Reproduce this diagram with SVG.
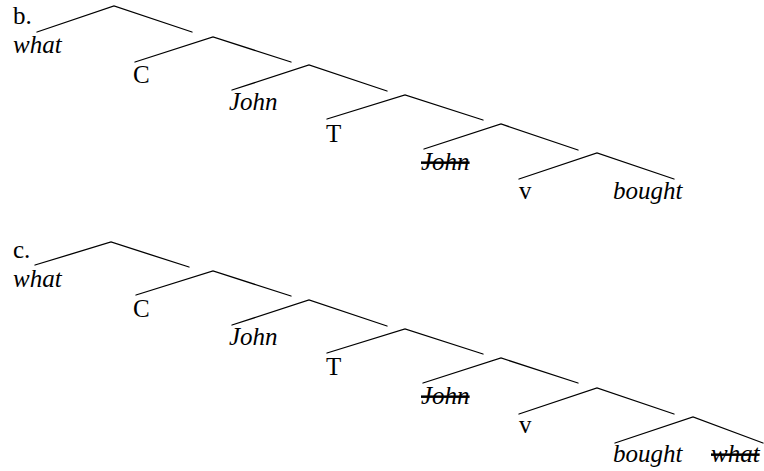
<svg xmlns="http://www.w3.org/2000/svg" width="764" height="471" viewBox="0 0 764 471">
<style>
.e{stroke:#000;stroke-width:1.3;fill:none;stroke-linecap:round}
text{font-family:"Liberation Serif","Times New Roman",serif;font-size:25px;fill:#000}
.i{font-style:italic}
.s{text-decoration:line-through}
</style>
<rect width="764" height="471" fill="#fff"/>
<g id="labels-b">
<text x="13" y="24">b.</text>
</g>
<g id="connectors-b">
<path class="e" d="M37 32L114 6L192 32M135 62L213 37L291 62M232 90L309 65L387 91M327 119L405 95L483 120M424 149L501 124L578 150M519 179L597 153L674 179"/>
</g>
<g id="b-what"><text class="i" x="13" y="53">what</text></g>
<g id="b-C"><text x="133" y="83">C</text></g>
<g id="b-John"><text class="i" x="229" y="110">John</text></g>
<g id="b-T"><text x="326" y="142">T</text></g>
<g id="b-John2"><text class="i s" x="421" y="170">John</text></g>
<g id="b-v"><text x="519" y="199">v</text></g>
<g id="b-bought"><text class="i" x="613" y="199">bought</text></g>

<g id="labels-c">
<text x="13" y="258">c.</text>
</g>
<g id="connectors-c">
<path class="e" d="M35 265L111 242L189 267M136 295L213 271L291 296M232 325L309 300L387 326M327 353L405 329L483 354M423 383L501 358L578 383M519 414L597 388L674 414M615 443L693 417L763 443"/>
</g>
<g id="c-what"><text class="i" x="13" y="287">what</text></g>
<g id="c-C"><text x="133" y="317">C</text></g>
<g id="c-John"><text class="i" x="229" y="345">John</text></g>
<g id="c-T"><text x="326" y="375">T</text></g>
<g id="c-John2"><text class="i s" x="421" y="404">John</text></g>
<g id="c-v"><text x="519" y="433">v</text></g>
<g id="c-bought"><text class="i" x="613" y="462">bought</text></g>
<g id="c-what2"><text class="i s" x="711" y="462">what</text></g>
</svg>
